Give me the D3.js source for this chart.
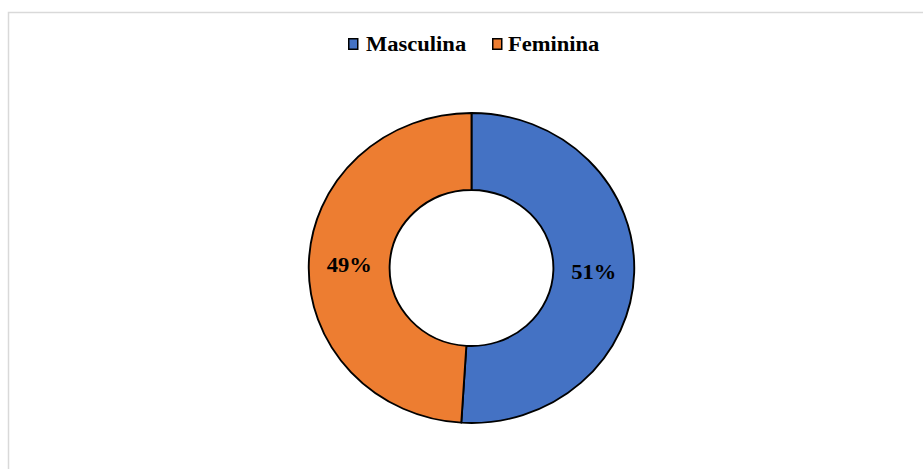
<!DOCTYPE html>
<html>
<head>
<meta charset="utf-8">
<script src="https://cdn.jsdelivr.net/npm/d3@7/dist/d3.min.js"></script>
<style>
  body { margin: 0; background: #fff; }
  text { font-family: "Liberation Serif", "DejaVu Serif Condensed", "DejaVu Serif", serif; font-weight: bold; }
</style>
</head>
<body>
<div id="chart"></div>
<script>
var categories = ["Masculina", "Feminina"]
var values = [51, 49]
var colors = ["#4472C4", "#ED7D31"]

var width = 923, height = 469
var cx = 471.5, cy = 268
var sx = 1.05 // chart is slightly wider than tall
var tx = 1.1  // text is stretched a bit too
var outerR = 155, innerR = 78

var svg = d3.select("#chart").append("svg")
    .attr("width", width)
    .attr("height", height)

// chart area border
svg.append("rect")
  .attr("x", 8.5).attr("y", 12.5)
  .attr("width", 1000).attr("height", 1000)
  .attr("fill", "none")
  .attr("stroke", "#d9d9d9")
  .attr("stroke-width", 1.5)

var pie = d3.pie().sort(null).value(function(d) { return d })
var arc = d3.arc().innerRadius(innerR).outerRadius(outerR)
var labelArc = d3.arc().innerRadius((innerR + outerR) / 2).outerRadius((innerR + outerR) / 2)

var arcs = pie(values)

var g = svg.append("g")
    .attr("transform", "translate(" + cx + "," + cy + ") scale(" + sx + ",1)")

g.selectAll("path")
  .data(arcs)
  .enter().append("path")
    .attr("d", arc)
    .attr("fill", function(d, i) { return colors[i] })
    .attr("stroke", "#000")
    .attr("stroke-width", 1.8)
    .attr("stroke-linejoin", "round")

svg.selectAll(".lbl")
  .data(arcs)
  .enter().append("g")
    .attr("class", "lbl")
    .attr("transform", function(d) {
      var c = labelArc.centroid(d)
      return "translate(" + (cx + c[0] * sx) + "," + (cy + c[1]) + ") scale(" + tx + ",1)"
    })
  .append("text")
    .attr("dy", "0.35em")
    .attr("text-anchor", "middle")
    .attr("font-size", 20.5)
    .attr("fill", "#000")
    .text(function(d) { return d.data + "%" })

// legend
var legendX = [348, 492]
var textX = [366, 508]
var legend = svg.selectAll(".leg")
  .data(categories)
  .enter().append("g")
    .attr("class", "leg")

legend.append("rect")
  .attr("x", function(d, i) { return legendX[i] + 0.75 })
  .attr("y", 38.75)
  .attr("width", 9).attr("height", 10.5)
  .attr("fill", function(d, i) { return colors[i] })
  .attr("stroke", "#000")
  .attr("stroke-width", 1.5)

legend.append("text")
  .attr("transform", function(d, i) { return "translate(" + textX[i] + ",51) scale(" + tx + ",1)" })
  .attr("font-size", 20.5)
  .attr("fill", "#000")
  .text(function(d) { return d })
</script>
</body>
</html>
